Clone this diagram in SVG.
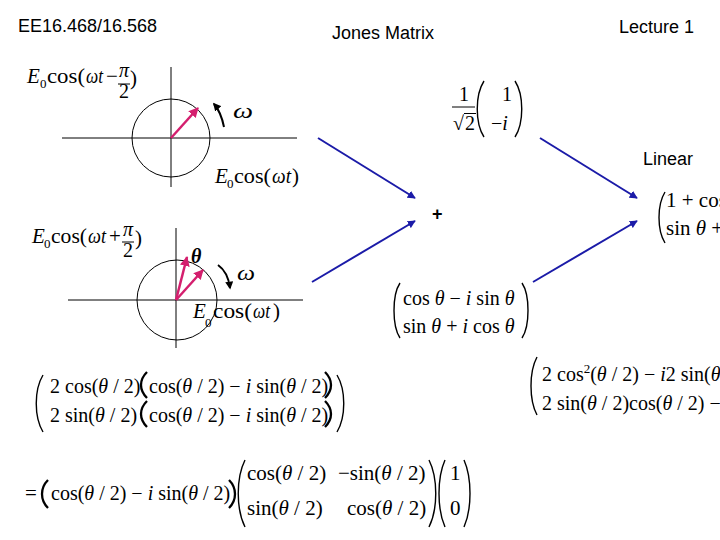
<svg xmlns="http://www.w3.org/2000/svg" width="720" height="540" viewBox="0 0 720 540">
<style>
.h{font-family:"Liberation Sans",Arial,sans-serif;font-size:18px;fill:#000}
.m{font-family:"Liberation Serif","Times New Roman",serif;font-size:20px;fill:#000}
.l{font-size:21px}
.s{font-size:13px}
.i{font-style:italic}
.ax{stroke:#000;stroke-width:1;fill:none}
.par{stroke:#000;stroke-width:1.4;fill:none}
.bp{stroke:#000;stroke-width:2.3;fill:none}
.blue{stroke:#1b1ba8;stroke-width:2;fill:none;marker-end:url(#ab)}
.pink{stroke:#d41f6e;stroke-width:2.5;fill:none;marker-end:url(#ap)}
.rot{stroke:#000;stroke-width:2;fill:none;marker-end:url(#ak)}
</style>
<defs>
<marker id="ab" viewBox="0 0 10 10" refX="9" refY="5" markerWidth="4" markerHeight="4" orient="auto" markerUnits="strokeWidth"><path d="M0,0 L10,5 L0,10 z" fill="#1b1ba8"/></marker>
<marker id="ap" viewBox="0 0 10 10" refX="9" refY="5" markerWidth="4" markerHeight="4" orient="auto" markerUnits="strokeWidth"><path d="M0,0 L10,5 L0,10 z" fill="#d41f6e"/></marker>
<marker id="ak" viewBox="0 0 10 10" refX="8" refY="5" markerWidth="4" markerHeight="4" orient="auto" markerUnits="strokeWidth"><path d="M0,0 L10,5 L0,10 z" fill="#000"/></marker>
</defs>
<rect width="720" height="540" fill="#fff"/>

<g id="header">
<text class="h" x="18" y="32">EE16.468/16.568</text>
<text class="h" x="332" y="39">Jones Matrix</text>
<text class="h" x="619" y="33">Lecture 1</text>
</g>

<g id="phasor-top">
<line class="ax" x1="171" y1="67" x2="171" y2="187"/>
<line class="ax" x1="62" y1="138" x2="297" y2="138"/>
<circle class="ax" cx="171" cy="138" r="39"/>
<line class="pink" x1="171" y1="138" x2="198" y2="108"/>
<path class="rot" d="M224,127 Q221,112 214,104"/>
<text class="m i l" x="233" y="118" textLength="20" lengthAdjust="spacingAndGlyphs">ω</text>
<text class="m l" y="83"><tspan class="i" x="27">E</tspan><tspan class="s" x="40" y="88">0</tspan></text>
<text class="m l" x="47" y="83" textLength="38" lengthAdjust="spacingAndGlyphs">cos(</text>
<text class="m i l" x="86" y="83" textLength="17" lengthAdjust="spacingAndGlyphs">ωt</text>
<text class="m l" x="106" y="83">−</text>
<text class="m i" x="119" y="77" font-size="16">π</text>
<line class="ax" x1="118" y1="84" x2="130" y2="84"/>
<text class="m" x="119" y="98" font-size="16">2</text>
<text class="m l" x="130" y="85">)</text>
<text class="m l" y="183"><tspan class="i" x="215">E</tspan><tspan class="s" x="227" y="188">0</tspan></text>
<text class="m l" x="234" y="183" textLength="37" lengthAdjust="spacingAndGlyphs">cos(</text>
<text class="m i l" x="272" y="183" textLength="19" lengthAdjust="spacingAndGlyphs">ωt</text>
<text class="m l" x="292" y="183">)</text>
</g>

<g id="phasor-bottom">
<line class="ax" x1="176" y1="228" x2="176" y2="348"/>
<line class="ax" x1="68" y1="300" x2="303" y2="300"/>
<circle class="ax" cx="177" cy="300" r="40"/>
<line class="pink" x1="176" y1="300" x2="187" y2="257"/>
<line class="pink" x1="176" y1="300" x2="203" y2="270"/>
<path class="rot" d="M218,265 Q228,272 230,288"/>
<text class="m i" x="191" y="263" font-size="24" font-weight="bold">θ</text>
<text class="m i l" x="237" y="280" textLength="18" lengthAdjust="spacingAndGlyphs">ω</text>
<text class="m l" y="243"><tspan class="i" x="32">E</tspan><tspan class="s" x="44" y="248">0</tspan></text>
<text class="m l" x="51" y="243" textLength="36" lengthAdjust="spacingAndGlyphs">cos(</text>
<text class="m i l" x="88" y="243" textLength="18" lengthAdjust="spacingAndGlyphs">ωt</text>
<text class="m l" x="109" y="243">+</text>
<text class="m i" x="123" y="236" font-size="16">π</text>
<line class="ax" x1="122" y1="242" x2="134" y2="242"/>
<text class="m" x="123" y="257" font-size="16">2</text>
<text class="m l" x="135" y="245">)</text>
<text class="m l" y="318"><tspan class="i" x="193">E</tspan><tspan class="s" x="205" y="327">0</tspan></text>
<text class="m l" x="213" y="318" textLength="39" lengthAdjust="spacingAndGlyphs">cos(</text>
<text class="m i l" x="253" y="318" textLength="17" lengthAdjust="spacingAndGlyphs">ωt</text>
<text class="m l" x="273" y="318">)</text>
</g>

<g id="jones-circular">
<text class="m" x="459" y="101" font-size="21">1</text>
<line class="ax" x1="452" y1="107" x2="475" y2="107"/>
<text class="m" x="453" y="130" font-size="20">√</text>
<line class="ax" x1="464" y1="113.5" x2="476" y2="113.5"/>
<text class="m" x="465" y="130" font-size="21">2</text>
<path class="par" d="M484,81 C475,95 475,123 484,137"/>
<path class="par" d="M515,81 C524,95 524,123 515,137"/>
<text class="m" x="502" y="101" font-size="22">1</text>
<text class="m" x="491" y="130" font-size="22">−<tspan class="i">i</tspan></text>
</g>

<g id="jones-rotated">
<path class="par" d="M400,283 C392,295 392,326 400,338"/>
<path class="par" d="M522,283 C530,295 530,326 522,338"/>
<text class="m" x="403" y="305" font-size="21">cos <tspan class="i">θ</tspan> − <tspan class="i">i</tspan> sin <tspan class="i">θ</tspan></text>
<text class="m" x="403" y="333" font-size="21">sin <tspan class="i">θ</tspan> + <tspan class="i">i</tspan> cos <tspan class="i">θ</tspan></text>
</g>

<g id="plus"><text class="h" x="432" y="220" font-size="20" font-weight="bold">+</text></g>

<g id="linear">
<text class="h" x="643" y="165">Linear</text>
<path class="par" d="M665,192 C657,205 657,230 665,243"/>
<text class="m l" x="666" y="207">1 + cos</text>
<text class="m l" x="666" y="235">sin <tspan class="i">θ</tspan> +</text>
</g>

<g id="sum-matrix">
<path class="par" d="M43,375 C34,390 34,417 43,432"/>
<path class="par" d="M337,375 C346,390 346,417 337,432"/>
<text class="m" x="50" y="393">2 cos(<tspan class="i">θ</tspan> / 2)</text>
<path class="bp" d="M147,372 C139,380 139,390 147,398"/>
<text class="m" x="149" y="393" font-size="19">cos(<tspan class="i">θ</tspan> / 2) − <tspan class="i">i</tspan> sin(<tspan class="i">θ</tspan> / 2)</text>
<path class="bp" d="M325,372 C333,380 333,390 325,398"/>
<text class="m" x="50" y="422">2 sin(<tspan class="i">θ</tspan> / 2)</text>
<path class="bp" d="M147,401 C139,409 139,419 147,427"/>
<text class="m" x="149" y="422" font-size="19">cos(<tspan class="i">θ</tspan> / 2) − <tspan class="i">i</tspan> sin(<tspan class="i">θ</tspan> / 2)</text>
<path class="bp" d="M325,401 C333,409 333,419 325,427"/>
</g>

<g id="expanded-matrix">
<path class="par" d="M537,357 C529,372 529,400 537,415"/>
<text class="m" x="542" y="381">2 cos<tspan font-size="13" dy="-8">2</tspan><tspan dy="8">(</tspan><tspan class="i">θ</tspan> / 2) − <tspan class="i">i</tspan>2 sin(<tspan class="i">θ</tspan></text>
<text class="m" x="542" y="410">2 sin(<tspan class="i">θ</tspan> / 2)cos(<tspan class="i">θ</tspan> / 2) −</text>
</g>

<g id="factored">
<text class="m l" x="25" y="500">=</text>
<path class="bp" d="M48,480 C40,488 40,500 48,508"/>
<text class="m" x="51" y="500" font-size="19">cos(<tspan class="i">θ</tspan> / 2) − <tspan class="i">i</tspan> sin(<tspan class="i">θ</tspan> / 2)</text>
<path class="bp" d="M229,480 C237,488 237,500 229,508"/>
<path class="par" d="M245,460 C236,478 236,509 245,527"/>
<path class="par" d="M429,460 C438,478 438,509 429,527"/>
<text class="m l" x="247" y="480">cos(<tspan class="i">θ</tspan> / 2)</text>
<text class="m l" x="338" y="480">−sin(<tspan class="i">θ</tspan> / 2)</text>
<text class="m l" x="247" y="515">sin(<tspan class="i">θ</tspan> / 2)</text>
<text class="m l" x="347" y="515">cos(<tspan class="i">θ</tspan> / 2)</text>
<path class="par" d="M445,460 C437,478 437,509 445,527"/>
<path class="par" d="M464,460 C472,478 472,509 464,527"/>
<text class="m l" x="450" y="480">1</text>
<text class="m l" x="450" y="515">0</text>
</g>

<g id="connectors">
<line class="blue" x1="318" y1="138" x2="415" y2="198"/>
<line class="blue" x1="312" y1="282" x2="415" y2="221"/>
<line class="blue" x1="540" y1="138" x2="637" y2="198"/>
<line class="blue" x1="533" y1="282" x2="637" y2="221"/>
</g>
</svg>
